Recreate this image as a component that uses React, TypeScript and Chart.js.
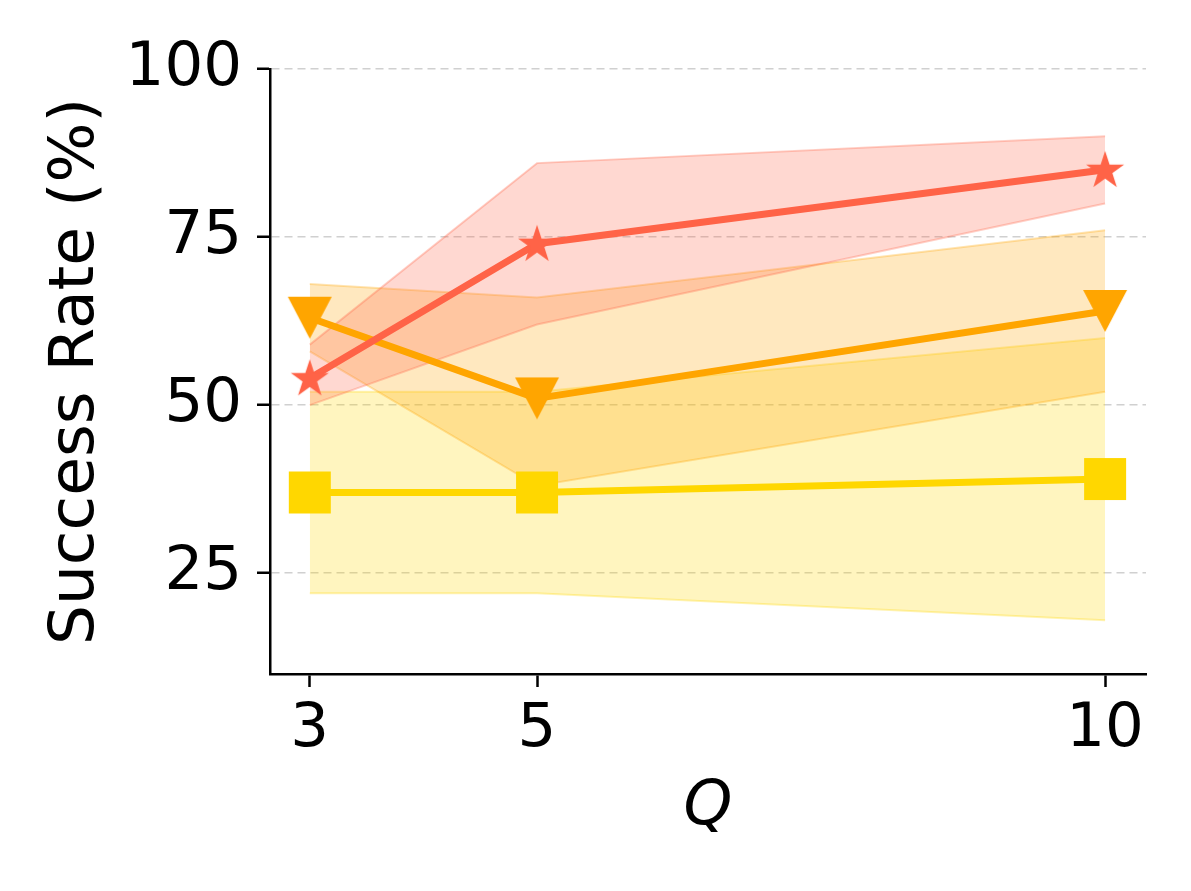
import React, { useEffect, useRef } from 'react';
import { Chart, registerables } from 'chart.js';

Chart.register(...registerables);

// Q values on the x axis
const qValues = [3, 5, 10];
const xTicks = [3, 5, 10];
const yTicks = [25, 50, 75, 100];

// red (star)
const redMean = [54, 74, 85];
const redLow = [50, 62, 80];
const redHigh = [59, 86, 90];

// orange (triangle down)
const orangeMean = [63, 51, 64];
const orangeLow = [58, 38, 52];
const orangeHigh = [68, 66, 76];

// gold (square)
const goldMean = [37, 37, 39];
const goldLow = [22, 22, 18];
const goldHigh = [52, 52, 60];

const FONT = "'DejaVu Sans', sans-serif";

const makeMarker = (kind: string, color: string): HTMLCanvasElement => {
  const c = document.createElement('canvas');
  const size = 46;
  c.width = size;
  c.height = size;
  const ctx = c.getContext('2d')!;
  const m = size / 2;
  ctx.fillStyle = color;
  ctx.beginPath();
  if (kind === 'star') {
    const R = 20;
    const r = R * 0.381966;
    for (let i = 0; i < 10; i++) {
      const rad = i % 2 === 0 ? R : r;
      const a = (Math.PI / 5) * i - Math.PI / 2;
      const px = m + rad * Math.cos(a);
      const py = m + 1 + rad * Math.sin(a);
      if (i === 0) ctx.moveTo(px, py);
      else ctx.lineTo(px, py);
    }
  } else if (kind === 'tri') {
    ctx.moveTo(m - 22, m - 21);
    ctx.lineTo(m + 22, m - 21);
    ctx.lineTo(m, m + 21);
  } else {
    ctx.rect(m - 21, m - 21, 42, 42);
  }
  ctx.closePath();
  ctx.fill();
  return c;
};

const toPoints = (vals: number[]) => qValues.map((q, i) => ({ x: q, y: vals[i] }));

const App: React.FC = () => {
  const canvasRef = useRef<HTMLCanvasElement | null>(null);

  useEffect(() => {
    document.body.style.margin = '0';
    if (!canvasRef.current) return;

    const lineSet = (data: number[], color: string, marker: HTMLCanvasElement, order: number) => ({
      data: toPoints(data),
      borderColor: color,
      backgroundColor: color,
      borderWidth: 7,
      borderJoinStyle: 'round' as const,
      pointStyle: marker,
      pointRadius: 20,
      pointHoverRadius: 20,
      fill: false,
      order,
    });

    const bandSet = (data: number[], rgb: string, fill: string | boolean, order: number) => ({
      data: toPoints(data),
      borderColor: `rgba(${rgb},0.3)`,
      backgroundColor: `rgba(${rgb},0.25)`,
      borderWidth: 2,
      pointRadius: 0,
      pointHoverRadius: 0,
      fill,
      order,
    });

    const chart = new Chart(canvasRef.current, {
      type: 'line',
      data: {
        datasets: [
          lineSet(redMean, '#FF6347', makeMarker('star', '#FF6347'), 0),
          lineSet(orangeMean, '#FFA500', makeMarker('tri', '#FFA500'), 1),
          lineSet(goldMean, '#FFD700', makeMarker('sq', '#FFD700'), 2),
          bandSet(redHigh, '255,99,71', '+1', 3),
          bandSet(redLow, '255,99,71', false, 4),
          bandSet(orangeHigh, '255,165,0', '+1', 5),
          bandSet(orangeLow, '255,165,0', false, 6),
          bandSet(goldHigh, '255,215,0', '+1', 7),
          bandSet(goldLow, '255,215,0', false, 8),
        ] as any,
      },
      options: {
        responsive: false,
        maintainAspectRatio: false,
        animation: false,
        layout: { padding: { top: 69, right: 45, left: 0, bottom: 0 } },
        elements: { line: { tension: 0 } },
        plugins: {
          legend: { display: false },
          tooltip: { enabled: false },
        },
        scales: {
          x: {
            type: 'linear',
            min: 2.65,
            max: 10.36,
            afterBuildTicks: (s: any) => {
              s.ticks = xTicks.map((v) => ({ value: v }));
            },
            afterFit: (s: any) => {
              s.height = 217;
            },
            border: { display: true, color: '#000', width: 2.5 },
            grid: {
              display: true,
              drawOnChartArea: false,
              drawTicks: true,
              tickLength: 13,
              tickColor: '#000',
              tickWidth: 2.5,
            },
            ticks: {
              font: { family: FONT, size: 61 },
              color: '#000',
              padding: 7,
              maxRotation: 0,
              autoSkip: false,
            },
            title: {
              display: true,
              text: 'Q',
              color: '#000',
              font: { family: FONT, size: 62, style: 'italic' },
              padding: { bottom: 46 },
            },
          },
          y: {
            type: 'linear',
            min: 10,
            max: 100,
            afterBuildTicks: (s: any) => {
              s.ticks = yTicks.map((v) => ({ value: v }));
            },
            afterFit: (s: any) => {
              s.width = 270;
            },
            border: { display: true, color: '#000', width: 2.5, dash: [8, 5] },
            grid: {
              color: 'rgba(170,170,170,0.55)',
              lineWidth: 1.5,
              drawTicks: true,
              tickLength: 13,
              tickColor: '#000',
              tickWidth: 2.5,
              tickBorderDash: [],
            },
            ticks: {
              font: { family: FONT, size: 61 },
              color: '#000',
              padding: 15,
            },
            title: {
              display: true,
              text: 'Success Rate (%)',
              color: '#000',
              font: { family: FONT, size: 63 },
              padding: { top: 39 },
            },
          },
        },
      },
    });

    return () => {
      chart.destroy();
    };
  }, []);

  return (
    <div style={{ width: 1191, height: 891, background: '#fff' }}>
      <canvas ref={canvasRef} width={1191} height={891}></canvas>
    </div>
  );
};

export default App;
